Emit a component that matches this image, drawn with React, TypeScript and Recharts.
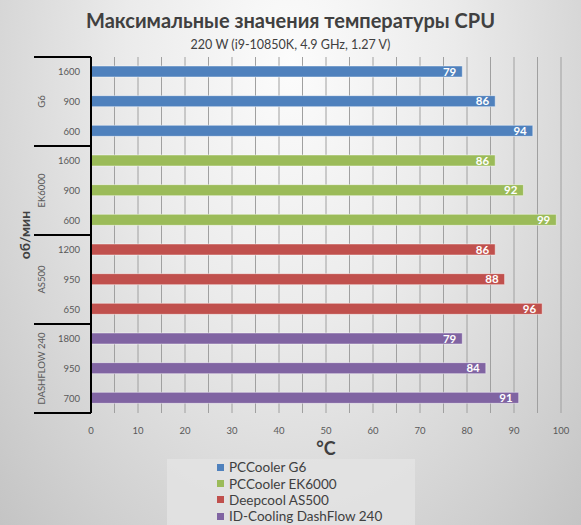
import { BarChart, Bar, XAxis, YAxis, CartesianGrid, Cell, LabelList, Label } from "recharts"

const groups = ["G6", "EK6000", "AS500", "DASHFLOW 240"]
const seriesNames = ["PCCooler G6", "PCCooler EK6000", "Deepcool AS500", "ID-Cooling DashFlow 240"]
const colors = ["#4F81BD", "#9BBB59", "#C0504D", "#8064A2"]

const rpm = [
  ["1600", "900", "600"],
  ["1600", "900", "600"],
  ["1200", "950", "650"],
  ["1800", "950", "700"],
]
const temps = [
  [79, 86, 94],
  [86, 92, 99],
  [86, 88, 96],
  [79, 84, 91],
]
const xTicks = [0, 5, 10, 15, 20, 25, 30, 35, 40, 45, 50, 55, 60, 65, 70, 75, 80, 85, 90, 95, 100]

const rows = groups.flatMap((g, gi) =>
  rpm[gi].map((r, i) => ({ id: `${gi}-${i}`, group: gi, rpm: r, temp: temps[gi][i] }))
)

const W = 581
const H = 525
const TOP = 57
const BOTTOM = 413
const BAND = (BOTTOM - TOP) / rows.length
const FONT = "Lato, 'Open Sans', sans-serif"

function GroupTick(props: any) {
  const { x, y, index } = props
  const row = rows[index]
  const axisX = x + 11
  const half = BAND / 2
  return (
    <g>
      <text x={x} y={y} dy={3.5} textAnchor="end" fontSize={9.5} fill="#595959" fontFamily={FONT}>
        {row.rpm}
      </text>
      {index % 3 === 0 && (
        <line x1={axisX - 57} x2={axisX} y1={y - half} y2={y - half} stroke="#000" strokeWidth={2} />
      )}
      {index === rows.length - 1 && (
        <line x1={axisX - 57} x2={axisX} y1={y + half} y2={y + half} stroke="#000" strokeWidth={2} />
      )}
      {index % 3 === 1 && (
        <text
          x={axisX - 49}
          y={y}
          transform={`rotate(-90 ${axisX - 49} ${y})`}
          textAnchor="middle"
          dy={3}
          fontSize={9.5}
          fill="#595959"
          fontFamily={FONT}
        >
          {groups[row.group]}
        </text>
      )}
    </g>
  )
}

export default function App() {
  return (
    <div
      style={{
        position: "relative",
        width: W,
        height: H,
        overflow: "hidden",
        fontFamily: FONT,
        background: "radial-gradient(ellipse at 50% 12%, #fcfcfc 0%, #ebebeb 40%, #c4c4c4 100%)",
      }}
    >
      <style>{`body{margin:0}`}</style>
      <div style={{ position: "absolute", top: 8, width: W, textAlign: "center", fontSize: 20, fontWeight: 700, color: "#404040" }}>
        Максимальные значения температуры CPU
      </div>
      <div style={{ position: "absolute", top: 37, width: W, textAlign: "center", fontSize: 12.5, color: "#404040" }}>
        220 W (i9-10850K, 4.9 GHz, 1.27 V)
      </div>
      <BarChart
        width={W}
        height={H}
        data={rows}
        layout="vertical"
        margin={{ top: TOP, right: 20, bottom: H - BOTTOM - 30, left: 0 }}
        style={{ position: "absolute", top: 0, left: 0 }}
      >
        <CartesianGrid horizontal={false} stroke="#a0a0a0" />
        <XAxis
          type="number"
          domain={[0, 100]}
          ticks={xTicks}
          tickFormatter={(v: number) => (v % 10 === 0 ? String(v) : "")}
          axisLine={false}
          tickLine={false}
          height={30}
          tickMargin={8}
          tick={{ fontSize: 9.5, fill: "#595959", fontFamily: FONT }}
        >
          <Label
            content={(p: any) => (
              <text
                x={p.viewBox.x + p.viewBox.width / 2}
                y={p.viewBox.y + 42}
                textAnchor="middle"
                fontSize={18}
                fontWeight={700}
                fill="#404040"
                fontFamily={FONT}
              >
                °C
              </text>
            )}
          />
        </XAxis>
        <YAxis
          type="category"
          dataKey="id"
          width={91}
          tickSize={0}
          tickMargin={11}
          axisLine={{ stroke: "#000", strokeWidth: 2 }}
          tickLine={false}
          interval={0}
          tick={<GroupTick />}
        >
          <Label
            content={(p: any) => {
              const cx = 25
              const cy = p.viewBox.y + p.viewBox.height / 2
              return (
                <text
                  x={cx}
                  y={cy}
                  transform={`rotate(-90 ${cx} ${cy})`}
                  textAnchor="middle"
                  dy={5}
                  fontSize={14}
                  fontWeight={700}
                  fill="#404040"
                  fontFamily={FONT}
                >
                  об/мин
                </text>
              )
            }}
          />
        </YAxis>
        <Bar dataKey="temp" barSize={11} isAnimationActive={false} stroke="rgba(255,255,255,0.45)" strokeWidth={1}>
          {rows.map((r) => (
            <Cell key={r.id} fill={colors[r.group]} />
          ))}
          <LabelList
            dataKey="temp"
            position="insideRight"
            offset={6}
            fill="#fff"
            fontSize={11.5}
            fontWeight={700}
            fontFamily={FONT}
          />
        </Bar>
      </BarChart>
      <div
        style={{
          position: "absolute",
          left: 167,
          top: 459,
          width: 248,
          height: 66,
          background: "rgba(228,228,228,0.8)",
        }}
      >
        {seriesNames.map((n, i) => (
          <div
            key={n}
            style={{
              position: "absolute",
              left: 50,
              top: 0 + i * 16.4,
              height: 16.4,
              display: "flex",
              alignItems: "center",
              fontSize: 13.5,
              color: "#404040",
              whiteSpace: "nowrap",
            }}
          >
            <span style={{ display: "inline-block", width: 7, height: 7, background: colors[i], marginRight: 5 }} />
            {n}
          </div>
        ))}
      </div>
    </div>
  )
}
